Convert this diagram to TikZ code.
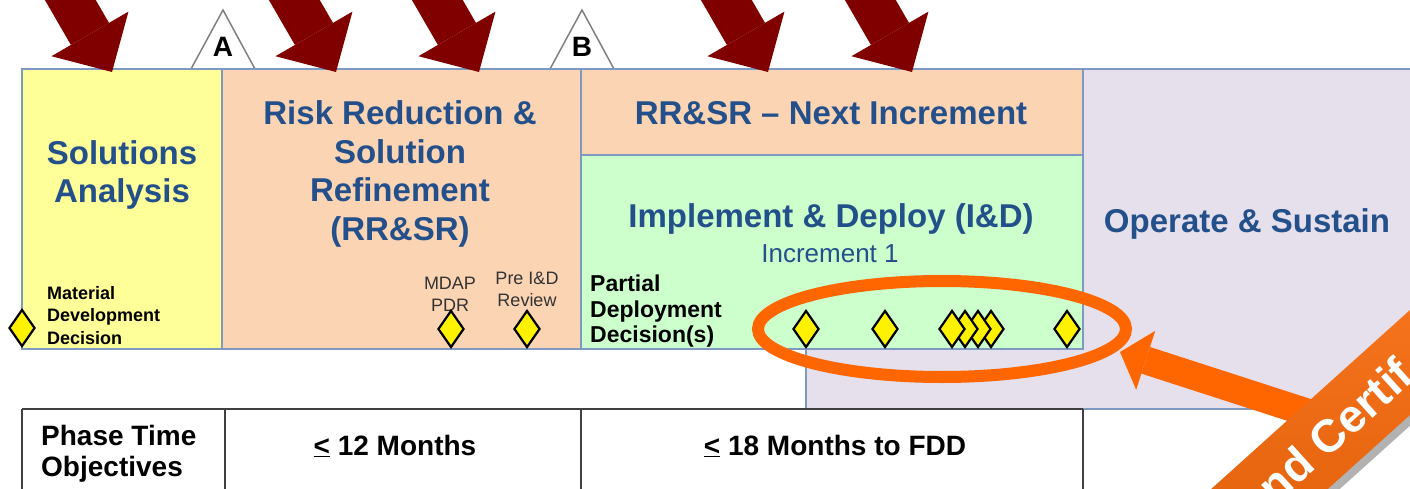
\documentclass[tikz,border=0pt]{standalone}
\usepackage{fontspec}
\setmainfont{Liberation Sans}
\usetikzlibrary{shapes.geometric, arrows.meta, calc}

\definecolor{saYellow}{HTML}{FFFF99}
\definecolor{rrPeach}{HTML}{FBD4B4}
\definecolor{idGreen}{HTML}{CCFFCC}
\definecolor{osLavender}{HTML}{E5E0EC}
\definecolor{boxline}{HTML}{7F9AC2}
\definecolor{titleblue}{HTML}{23508A}
\definecolor{darkred}{HTML}{800000}
\definecolor{certorange}{HTML}{FF6600}

\begin{document}
\begin{tikzpicture}[x=1pt,y=-1pt]
      \tikzset{phase box/.style={fill=#1,
          draw=boxline,
          line width=2pt},
        phase title/.style={text=titleblue, inner sep=0pt, align=center,
          font=\fontsize{33}{38.5}\selectfont\bfseries},
        small label/.style={inner sep=0pt, align=left,
          font=\fontsize{18}{22.5}\selectfont\bfseries},
        milestone label/.style={inner sep=0pt, align=center, text=black!80,
          font=\fontsize{18}{22}\selectfont},
        decision/.style={diamond, draw=black, fill=yellow, line width=2.2pt,
          inner sep=0pt, minimum width=26pt, minimum height=37pt},
        gate/.style={draw=gray, fill=white, line width=1.5pt},
        phase arrow/.style={draw=darkred, line width=44pt,
          -{Triangle[length=44pt, width=89pt, line width=0pt]}},
        cert arrow/.style={draw=certorange, line width=28pt,
          -{Triangle[length=27pt, width=62pt, line width=0pt]}},
        table rule/.style={draw=black!75, line width=2pt},
        table text/.style={inner sep=0pt, font=\fontsize{28}{31}\selectfont\bfseries}
      }
      \useasboundingbox (0,0) rectangle (1410,489);
      \clip (0,0) rectangle (1410,489);

      % gates
      \draw [gate] (191,69) -- (223,10) -- (255,69) -- cycle;
      \draw [gate] (550,69) -- (582,10) -- (614,69) -- cycle;
      \node [font=\fontsize{28}{30}\selectfont\bfseries] (gateA) at (223,47) {A};
      \node [font=\fontsize{28}{30}\selectfont\bfseries] (gateB) at (582,47) {B};

      % phases
      \draw [phase box=osLavender] (806,69) rectangle (1430,409);
      \draw [phase box=saYellow] (22,69) rectangle (222,349);
      \draw [phase box=rrPeach] (222,69) rectangle (581,349);
      \draw [phase box=rrPeach] (581,69) rectangle (1083,155);
      \draw [phase box=idGreen] (581,155) rectangle (1083,349);

      \node [phase title] (sa) at (122,175) {Solutions\\Analysis};
      \node [phase title] (rrsr) at (400,174) {Risk Reduction \&\\Solution\\Refinement\\(RR\&SR)};
      \node [phase title, anchor=base] (next) at (831,125) {RR\&SR -- Next Increment};
      \node [phase title, anchor=base] (id) at (831,227) {Implement \& Deploy (I\&D)};
      \node [anchor=base, inner sep=0pt, text=titleblue, font=\fontsize{26}{30}\selectfont] (inc) at (830,262) {Increment 1};
      \node [phase title, anchor=base] (os) at (1247,233) {Operate \& Sustain};

      \foreach \t [count=\i] in {112,336,479,768,912}{
        \coordinate (tip\i) at (\t,72);
        \draw [phase arrow] ($(tip\i)+(-110,-190)$) -- (tip\i);
      }

      % decisions
      \node [small label, anchor=north west] (mdd) at (47,286) {Material\\Development\\Decision};
      \node [milestone label, anchor=north] (pdr) at (450,277) {MDAP\\PDR};
      \node [milestone label, anchor=north] (preid) at (527,272) {Pre I\&D\\Review};
      \node [inner sep=0pt, align=left, anchor=north west,
        font=\fontsize{23}{25.5}\selectfont\bfseries] (pdd) at (590,275) {Partial\\Deployment\\Decision(s)};

      \node [decision] (mddmark) at (22,328) {};
      \node [decision] (pdrmark) at (451,329) {};
      \node [decision] (preidmark) at (527,329) {};
      \foreach \x [count=\i] in {1067,991,978,965,952,885,806}
        \node [decision] (pd\i) at (\x,329) {};

      \node [ellipse, draw=certorange, line width=12pt, inner sep=0pt,
        minimum width=368pt, minimum height=96pt] (cluster) at (942,329) {};
      \coordinate (certtip) at (1120,352);
      \coordinate (certtail) at (1358,429);
      \draw [cert arrow] (certtail) -- (certtip);

      % time objectives
      \draw [table rule] (22,409) -- (1083,409);
      \foreach \x in {22,225,581,1083}
        \draw [table rule] (\x,409) -- (\x,500);
      \node [table text, align=left, anchor=north west] (pto) at (41,425) {Phase Time\\Objectives};
      \node [table text, anchor=base] (twelve) at (395,455) {\underline{<} 12 Months};
      \node [table text, anchor=base] (eighteen) at (835,455) {\underline{<} 18 Months to FDD};

      % banner
      \begin{scope}[shift={(1335,430)}, rotate=42]
        \fill [black, opacity=0.3] (-330,-33) rectangle (330,47);
        \shade [top color=certorange!85!white, middle color=certorange,
          bottom color=certorange!85!black] (-330,-39) rectangle (330,39);
        \node [rotate=42, text=white, font=\fontsize{46}{50}\selectfont\bfseries] (cert) at (0,0) {nd Certif};
      \end{scope}
\end{tikzpicture}
\end{document}
